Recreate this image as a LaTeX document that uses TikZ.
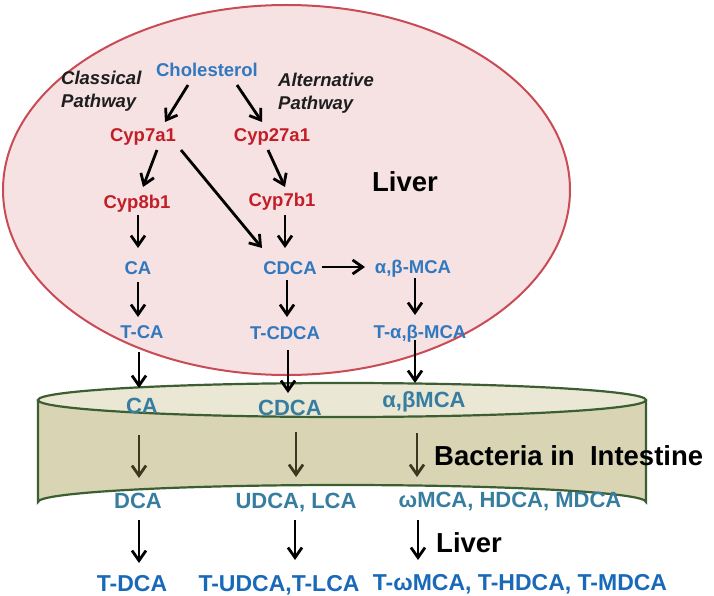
\documentclass[tikz,border=0pt]{standalone}
\usepackage{fontspec}
\setmainfont{Liberation Sans}
\usetikzlibrary{arrows.meta}
\definecolor{liverfill}{RGB}{246,226,227}
\definecolor{liverline}{RGB}{200,75,85}
\definecolor{cred}{RGB}{195,30,40}
\definecolor{cblue}{RGB}{50,120,190}
\definecolor{cteal}{RGB}{55,125,160}
\definecolor{cbot}{RGB}{25,105,185}
\definecolor{colive}{RGB}{60,55,30}
\definecolor{cylbody}{RGB}{216,212,180}
\definecolor{cyltop}{RGB}{234,232,212}
\definecolor{cylline}{RGB}{60,95,50}
\definecolor{ctext}{RGB}{30,30,30}
\begin{document}
\begin{tikzpicture}[x=1pt,y=-1pt,
  lbl/.style={inner sep=0pt, text height=13pt, text depth=0pt, font=\bfseries\fontsize{18.5}{22}\selectfont},
  met/.style={lbl, text=cblue},
  enz/.style={lbl, text=cred},
  cyl/.style={inner sep=0pt, text height=15.8pt, text depth=0pt, font=\bfseries\fontsize{22}{26}\selectfont, text=cteal},
  bot/.style={inner sep=0pt, text height=16.5pt, text depth=0pt, font=\bfseries\fontsize{23}{27}\selectfont, text=cbot},
  big/.style={inner sep=0pt, text height=19.5pt, text depth=0pt, font=\bfseries\fontsize{27.5}{32}\selectfont, text=black},
  path/.style={inner sep=0pt, align=left, font=\bfseries\itshape\fontsize{18.5}{22.5}\selectfont, text=ctext},
  arr/.style={-{Straight Barb[length=10pt,width=14pt]}, line width=2.8pt, draw=black},
  oarr/.style={arr, draw=colive}]
\useasboundingbox (0,0) rectangle (714,596);
% liver
\draw[fill=liverfill, draw=liverline, line width=2pt] (286.5,190) ellipse [x radius=283.5, y radius=185];
% intestine cylinder
\draw[fill=cylbody, draw=cylline, line width=2.2pt]
  (38,400) -- (38,502) arc[start angle=180, end angle=360, x radius=304, y radius=17] -- (646,400);
\draw[fill=cyltop, draw=cylline, line width=2.2pt] (342,400) ellipse [x radius=304, y radius=17];
% liver nodes
\node[met] (chol) at (207,70) {Cholesterol};
\node[path, anchor=north west] (classical) at (61,71) {Classical\\Pathway};
\node[path, anchor=north west] (alt) at (278,73) {Alternative\\Pathway};
\node[enz] (cyp7a1) at (143,135) {Cyp7a1};
\node[enz] (cyp27a1) at (272,135) {Cyp27a1};
\node[enz] (cyp8b1) at (137,202) {Cyp8b1};
\node[enz] (cyp7b1) at (282,200) {Cyp7b1};
\node[met] (ca) at (138,268) {CA};
\node[met] (cdca) at (290,268) {CDCA};
\node[met] (abmca) at (413,267) {α,β-MCA};
\node[met] (tca) at (142,332) {T-CA};
\node[met] (tcdca) at (285,333) {T-CDCA};
\node[met] (tabmca) at (420,332) {T-α,β-MCA};
\node[big] (liver) at (405,182) {Liver};
% intestine nodes
\node[cyl] (cca) at (142,406) {CA};
\node[cyl] (ccdca) at (290,408) {CDCA};
\node[cyl] (cabmca) at (424,400) {α,βMCA};
\node[cyl] (dca) at (138,501) {DCA};
\node[cyl] (udca) at (296,501) {UDCA, LCA};
\node[cyl] (omca) at (510,500) {ωMCA, HDCA, MDCA};
\node[big, anchor=west] (bact) at (434,456) {Bacteria in\ \ Intestine};
% back to liver
\node[big, anchor=west] (liver2) at (436,543) {Liver};
\node[bot] (tdca) at (132,583) {T-DCA};
\node[bot] (tudca) at (279,583) {T-UDCA,T-LCA};
\node[bot] (tomca) at (520,582) {T-ωMCA, T-HDCA, T-MDCA};
% arrows in liver
\draw[arr] ([shift={(-19,15)}]chol.center) -- ([shift={(22,-13)}]cyp7a1.center);
\draw[arr] ([shift={(30,15)}]chol.center) -- ([shift={(-10,-13)}]cyp27a1.center);
\draw[arr] ([shift={(14,15)}]cyp7a1.center) -- ([shift={(6,-15)}]cyp8b1.center);
\draw[arr] ([shift={(38,15)}]cyp7a1.center) -- ([shift={(-28,-20)}]cdca.center);
\draw[arr] ([shift={(-4,15)}]cyp27a1.center) -- ([shift={(3,-13)}]cyp7b1.center);
\draw[arr] ([shift={(3,15)}]cyp7b1.center) -- ([shift={(-5,-20)}]cdca.center);
\draw[arr] ([shift={(1,13)}]cyp8b1.center) -- ([shift={(0,-20)}]ca.center);
\draw[arr] ([shift={(32,-1)}]cdca.center) -- ([shift={(-48,0)}]abmca.center);
\draw[arr] ([shift={(0,14)}]ca.center) -- ([shift={(-4,-15)}]tca.center);
\draw[arr] ([shift={(-3,12)}]cdca.center) -- ([shift={(2,-16)}]tcdca.center);
\draw[arr] ([shift={(2,11)}]abmca.center) -- ([shift={(-5,-17)}]tabmca.center);
% liver to intestine
\draw[arr] ([shift={(-3,20)}]tca.center) -- ([shift={(-3,-18)}]cca.center);
\draw[arr] ([shift={(3,17)}]tcdca.center) -- ([shift={(-2,-15)}]ccdca.center);
\draw[arr] ([shift={(-5,8)}]tabmca.center) -- ([shift={(-9,-17)}]cabmca.center);
% bacteria
\draw[oarr] ([shift={(-3,29)}]cca.center) -- ([shift={(1,-23)}]dca.center);
\draw[oarr] ([shift={(6,24)}]ccdca.center) -- ([shift={(0,-24)}]udca.center);
\draw[oarr] ([shift={(-7,33)}]cabmca.center) -- ([shift={(-93,-23)}]omca.center);
% back to liver
\draw[arr] ([shift={(1,19)}]dca.center) -- ([shift={(7,-20)}]tdca.center);
\draw[arr] ([shift={(-1,19)}]udca.center) -- ([shift={(16,-23)}]tudca.center);
\draw[arr] ([shift={(-92,20)}]omca.center) -- ([shift={(-102,-22)}]tomca.center);
\end{tikzpicture}
\end{document}
